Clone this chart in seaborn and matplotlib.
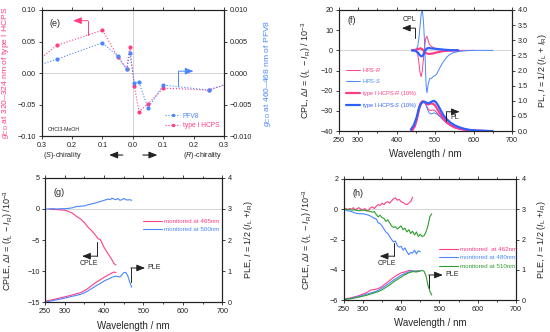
import matplotlib
matplotlib.use('Agg')
import matplotlib.pyplot as plt
import seaborn as sns
from matplotlib.ticker import MultipleLocator, FuncFormatter
from matplotlib.lines import Line2D

sns.set_style('ticks')
plt.rcParams['font.family'] = ['Liberation Sans', 'DejaVu Sans']
plt.rcParams['mathtext.fontset'] = 'custom'
plt.rcParams['mathtext.rm'] = 'Liberation Sans'
plt.rcParams['mathtext.it'] = 'Liberation Sans:italic'
plt.rcParams['mathtext.bf'] = 'Liberation Sans:bold'

PINK = '#ff3d86'
BLUE = '#4a86ff'
BLUE2 = '#2f5fff'
GREEN = '#2e9e2e'

# ---- (e) g_CD vs enantiomeric excess ----
e_x = [-0.3, -0.25, -0.1, -0.05, -0.02, -0.01, 0.005, 0.02, 0.05, 0.1, 0.25, 0.3]
e_hcps = [0.025, 0.044, 0.068, 0.026, 0.007, 0.042, -0.020, -0.061, -0.049, -0.024, -0.027, -0.019]
e_pfv8 = [0.0014, 0.0022, 0.0048, 0.0027, 0.0006, 0.0032, -0.0016, -0.0014, -0.0056, -0.0019, -0.0027, -0.0019]

# ---- (f) CPL / PL ----
f_cpl_hpsr_wl = [440, 450, 455, 458, 461, 464, 467, 470, 473, 476, 479, 482, 485, 490, 495, 500, 510, 520, 540, 560, 580, 600]
f_cpl_hpsr = [0, -0.3, -2, -6, -11, -13, -10, -4, 2, 6, 7, 5, 3, 2, 1.5, 1, 0.5, 0.3, 0.1, 0, 0, 0]
f_cpl_hpss_wl = [440, 450, 455, 458, 461, 464, 467, 470, 473, 475, 477, 479, 482, 486, 490, 495, 500, 505, 510, 520, 528, 535, 545, 560, 580, 600, 650]
f_cpl_hpss = [0, 0.3, 2, 6, 12, 18, 20, 14, 3, -8, -18, -21, -17, -14, -14, -13, -12.5, -11.5, -9.5, -6, -4, -2.5, -1.3, -0.6, -0.2, 0, 0]
f_cpl_hcpsr_wl = [440, 450, 458, 463, 468, 473, 478, 485, 495, 505, 520, 540, 560]
f_cpl_hcpsr = [0, 0.3, 0.8, 1.0, 0.3, -0.8, -1.5, -1.8, -1.5, -1.0, -0.4, -0.1, 0]
f_cpl_hcpss_wl = [440, 450, 456, 461, 465, 469, 473, 478, 483, 490, 500, 510, 525, 540, 560]
f_cpl_hcpss = [0, -0.3, -1.2, -2.5, -3.0, -2.5, -0.5, 0.8, 1.2, 1.0, 0.8, 0.6, 0.3, 0.1, 0]

f_pl_hpsr_wl = [440, 447, 453, 458, 463, 467, 471, 475, 479, 483, 487, 491, 495, 500, 505, 512, 520, 530, 540, 550, 565, 580, 600, 620]
f_pl_hpsr = [0.02, 0.2, 0.5, 0.8, 0.95, 1.0, 0.97, 0.9, 0.8, 0.72, 0.68, 0.69, 0.7, 0.68, 0.6, 0.5, 0.38, 0.27, 0.18, 0.12, 0.06, 0.03, 0.01, 0]
f_pl_hpss_wl = [442, 450, 456, 461, 465, 469, 473, 477, 481, 485, 489, 493, 497, 502, 508, 515, 522, 530, 540, 550, 565, 580, 600, 620, 640]
f_pl_hpss = [0.02, 0.25, 0.55, 0.8, 0.92, 0.96, 0.94, 0.85, 0.7, 0.6, 0.57, 0.58, 0.6, 0.58, 0.53, 0.45, 0.36, 0.27, 0.19, 0.13, 0.07, 0.04, 0.02, 0.01, 0]
f_pl_hcpsr_wl = [440, 447, 453, 458, 462, 466, 470, 474, 478, 482, 486, 490, 495, 500, 505, 512, 520, 530, 540, 550, 565, 580, 600, 620, 640]
f_pl_hcpsr = [0.02, 0.15, 0.4, 0.7, 0.9, 0.97, 0.98, 0.95, 0.9, 0.88, 0.9, 0.92, 0.9, 0.85, 0.75, 0.6, 0.45, 0.3, 0.2, 0.13, 0.07, 0.04, 0.02, 0.01, 0]
f_pl_hcpss_wl = [437, 445, 452, 458, 463, 468, 472, 476, 480, 484, 488, 492, 497, 502, 508, 515, 522, 530, 540, 550, 560, 575, 590, 610, 630, 650]
f_pl_hcpss = [0.05, 0.2, 0.45, 0.75, 0.9, 0.96, 0.97, 0.95, 0.93, 0.92, 0.95, 0.98, 1.0, 0.96, 0.85, 0.68, 0.52, 0.4, 0.28, 0.2, 0.14, 0.08, 0.04, 0.02, 0.01, 0]

# ---- (g) CPLE / PLE ----
g_cple465_wl = [260, 270, 280, 290, 300, 310, 320, 330, 340, 350, 360, 370, 380, 385, 390, 400, 410, 420, 425, 430]
g_cple465 = [0, -0.05, -0.1, -0.15, -0.2, -0.4, -0.7, -1.2, -1.6, -2.2, -3.0, -3.6, -4.4, -4.8, -4.9, -6.2, -7.2, -8.2, -8.8, -9.0]
g_cple500_wl = [250, 260, 270, 280, 290, 300, 310, 320, 330, 340, 350, 360, 370, 380, 390, 400, 410, 415, 420, 425, 430, 435, 440, 445, 450, 455, 460, 465, 470]
g_cple500 = [0, 0, 0.05, 0, 0.05, 0.05, 0.1, 0.2, 0.4, 0.45, 0.5, 0.7, 0.85, 1.0, 1.2, 1.4, 1.6, 1.5, 1.75, 1.6, 1.5, 1.7, 1.4, 1.5, 1.7, 1.5, 1.45, 1.5, 1.4]
g_ple465_wl = [250, 270, 290, 310, 330, 340, 350, 360, 370, 380, 390, 400, 410, 420, 425, 430]
g_ple465 = [0.03, 0.08, 0.14, 0.2, 0.27, 0.3, 0.37, 0.45, 0.55, 0.64, 0.72, 0.8, 0.87, 0.94, 0.97, 0.95]
g_ple500_wl = [250, 270, 290, 310, 330, 340, 350, 360, 370, 380, 390, 400, 410, 420, 430, 440, 445, 450, 455, 460, 465, 470]
g_ple500 = [0.0, 0.05, 0.1, 0.16, 0.22, 0.25, 0.3, 0.37, 0.45, 0.53, 0.6, 0.68, 0.74, 0.8, 0.84, 0.81, 0.88, 0.95, 0.96, 0.85, 0.65, 0.48]

# ---- (h) CPLE / PLE ----
h_cple462_wl = [250, 255, 260, 265, 270, 275, 280, 285, 290, 295, 300, 305, 310, 315, 320, 325, 330, 335, 340, 345, 350, 355, 360, 365, 370, 375, 380, 385, 390, 395, 400, 405, 410, 415, 420, 425, 430]
h_cple462 = [0, 0.05, -0.05, 0.05, 0, 0.1, -0.05, 0.05, 0.1, 0, -0.05, 0.05, -0.1, -0.05, 0.1, 0.15, 0.05, 0.2, 0.3, 0.25, 0.4, 0.3, 0.45, 0.5, 0.4, 0.55, 0.7, 0.75, 0.6, 0.65, 0.5, 0.45, 0.35, 0.3, 0.4, 0.5, 0.8]
h_cple480_wl = [250, 260, 270, 280, 290, 300, 310, 320, 330, 335, 340, 345, 350, 355, 360, 365, 370, 375, 380, 385, 390, 395, 400, 405, 410, 415, 420, 425, 430, 435, 440, 445, 450]
h_cple480 = [0, -0.1, -0.15, -0.25, -0.3, -0.3, -0.35, -0.45, -0.6, -0.65, -0.9, -0.95, -1.1, -1.3, -1.5, -1.6, -1.8, -2.0, -2.15, -2.1, -2.4, -2.5, -2.45, -2.7, -2.55, -2.8, -3.0, -2.85, -2.9, -2.7, -2.95, -2.75, -2.8]
h_cple510_wl = [250, 260, 270, 280, 290, 300, 310, 320, 325, 330, 335, 340, 345, 350, 355, 360, 365, 370, 375, 380, 385, 390, 395, 400, 405, 410, 415, 420, 425, 430, 435, 440, 445, 450, 455, 460, 465, 470, 475, 480]
h_cple510 = [0, 0, -0.05, -0.05, -0.1, -0.05, -0.1, -0.15, -0.2, -0.15, -0.35, -0.5, -0.4, -0.55, -0.6, -0.8, -0.7, -0.9, -1.1, -1.2, -1.15, -1.3, -1.2, -1.1, -1.35, -1.25, -1.5, -1.35, -1.6, -1.45, -1.7, -1.5, -1.8, -1.65, -1.8, -1.75, -1.5, -1.1, -0.5, -0.3]
h_ple462_wl = [250, 270, 290, 310, 320, 330, 340, 350, 360, 370, 380, 390, 400, 410, 420, 430, 440, 445]
h_ple462 = [0.03, 0.08, 0.15, 0.25, 0.33, 0.35, 0.38, 0.45, 0.55, 0.65, 0.75, 0.83, 0.9, 0.93, 0.98, 0.95, 0.96, 0.97]
h_ple480_wl = [250, 270, 290, 310, 330, 340, 350, 360, 370, 380, 390, 400, 410, 420, 430, 440, 450]
h_ple480 = [0.02, 0.06, 0.12, 0.2, 0.27, 0.32, 0.4, 0.48, 0.57, 0.66, 0.74, 0.82, 0.88, 0.93, 0.97, 0.95, 0.97]
h_ple510_wl = [250, 270, 290, 310, 330, 340, 350, 360, 370, 380, 390, 400, 410, 420, 430, 440, 450, 455, 460, 465, 470, 475, 480]
h_ple510 = [0.02, 0.05, 0.1, 0.16, 0.24, 0.28, 0.34, 0.42, 0.5, 0.6, 0.68, 0.76, 0.84, 0.9, 0.94, 0.93, 0.96, 0.98, 0.95, 0.8, 0.5, 0.3, 0.17]

wl_ticks = [250, 300, 400, 500, 600, 700]

fig = plt.figure(figsize=(5.5, 3.32), dpi=100)


def style(ax, ax2):
    for a in (ax, ax2):
        a.tick_params(which='both', direction='out', labelsize=5.2, width=0.6, pad=1.5, colors='#222')
        a.tick_params(which='major', length=2.5)
        a.tick_params(which='minor', length=1.5)
        for s in a.spines.values():
            s.set_linewidth(0.8)
            s.set_color('#222')
    ax.tick_params(axis='x', which='both', top=True)
    ax2.tick_params(axis='y', which='both', left=False, right=True)


def wl_axis(ax):
    ax.set_xlim(250, 700)
    ax.set_xticks(wl_ticks)
    ax.xaxis.set_minor_locator(MultipleLocator(50))
    ax.set_xlabel('Wavelength / nm', fontsize=7)
    ax.xaxis.set_label_coords(0.5, -0.15)


def L_arrow(ax, x0, y0, x1, y1, x2, color, text=None, tx=None, ty=None):
    # L-shaped pointer: vertical segment then horizontal arrow
    ax.plot([x0, x1], [y0, y1], color=color, lw=0.7)
    ax.annotate('', xy=(x2, y1), xytext=(x1, y1),
                arrowprops=dict(arrowstyle='-|>,head_length=0.5,head_width=0.2',
                                color=color, lw=0.7, shrinkA=0, shrinkB=0))
    if text:
        ax.text(tx, ty, text, fontsize=5, ha='center', va='center', color='#222')


# ================= (e) =================
axe = fig.add_axes([0.076, 0.590, 0.331, 0.380])
axe2 = axe.twinx()
axe.axhline(0, color='#cccccc', lw=0.6)
axe.axvline(0, color='#cccccc', lw=0.6)
sns.lineplot(x=e_x, y=e_hcps, ax=axe, color=PINK, lw=0.8, linestyle=':', marker='o',
             markersize=3, markeredgewidth=0, markevery=list(range(1, 11)), label='type I HCPS', legend=False)
sns.lineplot(x=e_x, y=e_pfv8, ax=axe2, color=BLUE, lw=0.8, linestyle=':', marker='o',
             markersize=3, markeredgewidth=0, markevery=list(range(1, 11)), label='PFV8', legend=False)
axe.set_xlim(-0.3, 0.3)
axe.set_ylim(-0.1, 0.1)
axe2.set_ylim(-0.01, 0.01)
axe.set_xticks([-0.3, -0.2, -0.1, 0.0, 0.1, 0.2, 0.3])
axe.xaxis.set_major_formatter(FuncFormatter(lambda v, p: f'{abs(v):.1f}'))
axe.set_yticks([-0.1, -0.05, 0, 0.05, 0.1])
axe2.set_yticks([-0.01, -0.005, 0, 0.005, 0.01])
style(axe, axe2)
axe.set_ylabel('$g_{\\rm CD}$ at 320\u2013324 nm of type I HCPS', fontsize=6.1, color=PINK)
axe.yaxis.set_label_coords(-0.17, 0.5)
axe2.set_ylabel('$g_{\\rm CD}$ at 460\u2013468 nm of PFV8', fontsize=6.1, color=BLUE)
axe2.yaxis.set_label_coords(1.21, 0.5)
axe.text(0.045, 0.89, '(e)', transform=axe.transAxes, fontsize=6.5, va='center')
axe.text(0.035, 0.05, 'CHCl3-MeOH', transform=axe.transAxes, fontsize=3.8, va='center')
axe.text(0.115, -0.15, '($S$)-chirality', transform=axe.transAxes, fontsize=5.2, ha='center', va='center')
axe.text(0.885, -0.15, '($R$)-chirality', transform=axe.transAxes, fontsize=5.2, ha='center', va='center')
for x0, x1 in [(0.445, 0.37), (0.555, 0.635)]:
    axe.annotate('', xy=(x1, -0.15), xytext=(x0, -0.15), xycoords='axes fraction',
                 arrowprops=dict(arrowstyle='-|>,head_length=0.5,head_width=0.2', color='#222', lw=0.8,
                                 shrinkA=0, shrinkB=0))
L_arrow(axe, -0.148, 0.060, -0.148, 0.083, -0.197, PINK)
L_arrow(axe2, 0.15, -0.0021, 0.15, 0.0003, 0.2, BLUE)
h_e = [Line2D([], [], color=BLUE, lw=0.8, ls=':', marker='o', ms=2.5, mew=0),
       Line2D([], [], color=PINK, lw=0.8, ls=':', marker='o', ms=2.5, mew=0)]
axe.legend(h_e, ['PFV8', 'type I HCPS'], loc='lower right', bbox_to_anchor=(1.0, 0.02), frameon=False,
           fontsize=4.8, handlelength=2.2, handletextpad=0.4, labelspacing=0.35, borderpad=0.2,
           labelcolor='linecolor')

# ================= (f) =================
axf = fig.add_axes([0.616, 0.605, 0.315, 0.365])
axf2 = axf.twinx()
axf.axhline(0, color='#cccccc', lw=0.6)
sns.lineplot(x=f_cpl_hpsr_wl, y=f_cpl_hpsr, ax=axf, color=PINK, lw=0.7, legend=False)
sns.lineplot(x=f_cpl_hpss_wl, y=f_cpl_hpss, ax=axf, color=BLUE, lw=0.7, legend=False)
sns.lineplot(x=f_cpl_hcpsr_wl, y=f_cpl_hcpsr, ax=axf, color=PINK, lw=1.6, legend=False)
sns.lineplot(x=f_cpl_hcpss_wl, y=f_cpl_hcpss, ax=axf, color=BLUE2, lw=1.6, legend=False)
sns.lineplot(x=f_pl_hpsr_wl, y=f_pl_hpsr, ax=axf2, color=PINK, lw=0.7, legend=False)
sns.lineplot(x=f_pl_hpss_wl, y=f_pl_hpss, ax=axf2, color=BLUE, lw=0.7, legend=False)
sns.lineplot(x=f_pl_hcpsr_wl, y=f_pl_hcpsr, ax=axf2, color=PINK, lw=1.6, legend=False)
sns.lineplot(x=f_pl_hcpss_wl, y=f_pl_hcpss, ax=axf2, color=BLUE2, lw=1.6, legend=False)
wl_axis(axf)
axf.set_ylim(-40, 20)
axf.set_yticks([-40, -30, -20, -10, 0, 10, 20])
axf2.set_ylim(0, 4)
axf2.yaxis.set_major_locator(MultipleLocator(0.5))
style(axf, axf2)
axf.set_ylabel('CPL, Δ$I$ = ($I_{\\rm L}$ \u2212 $I_{\\rm R}$) / 10$^{-3}$', fontsize=6.5)
axf.yaxis.set_label_coords(-0.15, 0.5)
axf2.set_ylabel('PL, $I$ = 1/2 ($I_{\\rm L}$ + $I_{\\rm R}$)', fontsize=6.5)
axf2.yaxis.set_label_coords(1.14, 0.5)
axf.text(0.05, 0.91, '(f)', transform=axf.transAxes, fontsize=6.5, va='center')
L_arrow(axf, 449, 6, 449, 11, 414, '#222', 'CPL', 433, 15.5)
L_arrow(axf2, 529, 0.34, 529, 0.64, 564, '#222', 'PL', 551, 0.44)
h_f = [Line2D([], [], color=PINK, lw=0.7), Line2D([], [], color=BLUE, lw=0.7),
       Line2D([], [], color=PINK, lw=1.6), Line2D([], [], color=BLUE2, lw=1.6)]
axf.legend(h_f, ['HPS-$R$', 'HPS-$S$', 'type I HCPS-$R$ (10%)', 'type I HCPS-$S$ (10%)'],
           loc='upper left', bbox_to_anchor=(0.02, 0.57), frameon=False, fontsize=4.1,
           handlelength=2.4, handletextpad=0.4, labelspacing=0.6, borderpad=0.2, labelcolor='linecolor')

# ================= (g) =================
axg = fig.add_axes([0.082, 0.090, 0.322, 0.374])
axg2 = axg.twinx()
axg.axhline(0, color='#cccccc', lw=0.6)
sns.lineplot(x=g_cple465_wl, y=g_cple465, ax=axg, color=PINK, lw=0.8, legend=False)
sns.lineplot(x=g_cple500_wl, y=g_cple500, ax=axg, color=BLUE, lw=0.8, legend=False)
sns.lineplot(x=g_ple465_wl, y=g_ple465, ax=axg2, color=PINK, lw=0.8, legend=False)
sns.lineplot(x=g_ple500_wl, y=g_ple500, ax=axg2, color=BLUE, lw=0.8, legend=False)
wl_axis(axg)
axg.set_ylim(-15, 5)
axg.set_yticks([-15, -10, -5, 0, 5])
axg2.set_ylim(0, 4)
axg2.set_yticks([0, 1, 2, 3, 4])
style(axg, axg2)
axg.set_ylabel('CPLE, Δ$I$ = ($I_{\\rm L}$ \u2212 $I_{\\rm R}$) /10$^{-3}$', fontsize=6.5)
axg.yaxis.set_label_coords(-0.17, 0.5)
axg2.set_ylabel('PLE, $I$ = 1/2 ($I_{\\rm L}$ +$I_{\\rm R}$)', fontsize=6.5)
axg2.yaxis.set_label_coords(1.11, 0.5)
axg.text(0.05, 0.88, '(g)', transform=axg.transAxes, fontsize=6.5, va='center')
L_arrow(axg, 382, -5.3, 382, -7.6, 344, '#222', 'CPLE', 362, -8.8)
L_arrow(axg2, 468, 0.65, 468, 1.1, 504, '#222', 'PLE', 526, 1.1)
h_g = [Line2D([], [], color=PINK, lw=0.8), Line2D([], [], color=BLUE, lw=0.8)]
axg.legend(h_g, ['monitored at 465nm', 'monitored at 500nm'], loc='upper left',
           bbox_to_anchor=(0.53, 0.71), frameon=False, fontsize=4.5, handlelength=3.0,
           handletextpad=0.3, labelspacing=0.5, borderpad=0.2, labelcolor='linecolor')

# ================= (h) =================
axh = fig.add_axes([0.625, 0.096, 0.313, 0.365])
axh2 = axh.twinx()
axh.axhline(0, color='#cccccc', lw=0.6)
sns.lineplot(x=h_cple462_wl, y=h_cple462, ax=axh, color=PINK, lw=0.8, legend=False)
sns.lineplot(x=h_cple480_wl, y=h_cple480, ax=axh, color=BLUE, lw=0.8, legend=False)
sns.lineplot(x=h_cple510_wl, y=h_cple510, ax=axh, color=GREEN, lw=0.8, legend=False)
sns.lineplot(x=h_ple462_wl, y=h_ple462, ax=axh2, color=PINK, lw=0.8, legend=False)
sns.lineplot(x=h_ple480_wl, y=h_ple480, ax=axh2, color=BLUE, lw=0.8, legend=False)
sns.lineplot(x=h_ple510_wl, y=h_ple510, ax=axh2, color=GREEN, lw=0.8, legend=False)
wl_axis(axh)
axh.set_ylim(-6, 2)
axh.set_yticks([-6, -4, -2, 0, 2])
axh2.set_ylim(0, 4)
axh2.set_yticks([0, 1, 2, 3, 4])
style(axh, axh2)
axh.set_ylabel('CPLE, Δ$I$ = ($I_{\\rm L}$ \u2212 $I_{\\rm R}$) /10$^{-3}$', fontsize=6.5)
axh.yaxis.set_label_coords(-0.17, 0.5)
axh2.set_ylabel('PLE, $I$ = 1/2 ($I_{\\rm L}$ +$I_{\\rm R}$)', fontsize=6.5)
axh2.yaxis.set_label_coords(1.11, 0.5)
axh.text(0.05, 0.88, '(h)', transform=axh.transAxes, fontsize=6.5, va='center')
L_arrow(axh, 381, -2.23, 381, -3.1, 344, '#222', 'CPLE', 362, -3.6)
L_arrow(axh2, 472, 0.4, 472, 0.83, 509, '#222', 'PLE', 532, 0.83)
h_h = [Line2D([], [], color=PINK, lw=0.8), Line2D([], [], color=BLUE, lw=0.8), Line2D([], [], color=GREEN, lw=0.8)]
axh.legend(h_h, ['monitored  at 462nm', 'monitored at 480nm', 'monitored at 510nm'], loc='upper left',
           bbox_to_anchor=(0.53, 0.48), frameon=False, fontsize=4.5, handlelength=3.0,
           handletextpad=0.3, labelspacing=0.5, borderpad=0.2, labelcolor='linecolor')

fig.savefig('out.png', dpi=100)
